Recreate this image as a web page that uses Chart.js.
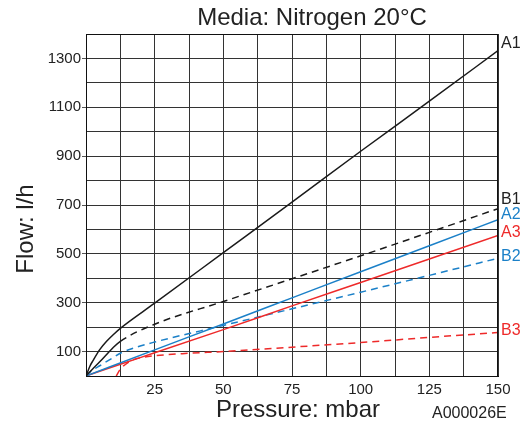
<!DOCTYPE html>
<html><head><meta charset="utf-8">
<script src="https://cdn.jsdelivr.net/npm/chart.js@4"></script>
<style>html,body{margin:0;padding:0;background:#fff}</style></head>
<body><canvas id="c" width="526" height="427"></canvas>
<script>
// ---- data ----
const xTickLabels = [25, 50, 75, 100, 125, 150];
const yTickLabels = [100, 300, 500, 700, 900, 1100, 1300];

const seriesNames = ['A1', 'B1', 'A2', 'A3', 'B2', 'B3'];
const a1P = [0, 1.5, 2.5, 5, 7.5, 10, 12.5, 25, 50, 75, 100, 125, 150];
const a1F = [0, 42, 62, 108, 142, 170, 195, 298, 505, 712, 920, 1125, 1332];
const b1P = [0, 2.5, 5, 7.5, 10, 12.5, 25, 50, 75, 100, 125, 150];
const b1F = [0, 30, 58, 88, 118, 142, 212, 305, 398, 492, 588, 685];
const a2P = [0, 25, 50, 75, 100, 125, 150];
const a2F = [0, 107, 213, 320, 427, 533, 640];
const a3P = [0, 12.5, 25, 50, 75, 100, 125, 150];
const a3F = [0, 48, 95, 190, 287, 383, 479, 575];
const b2P = [0, 2.5, 5, 10, 12.5, 17.5, 25, 50, 75, 100, 125, 150];
const b2F = [0, 25, 42, 76, 93, 115, 139, 207, 275, 343, 412, 482];
const b3P = [11, 12.5, 15, 17.5, 20, 25, 37.5, 50, 75, 100, 125, 150];
const b3F = [0, 28, 53, 68, 75, 83, 93, 100, 118, 137, 158, 178];
// label anchor values (flow) at the right edge
const labelFlow = [1359, 724, 659, 585, 487, 184];

const BLACK = '#1a1a1a', BLUE = '#1b80c8', RED = '#ee2a2a';
const colors = [BLACK, BLACK, BLUE, RED, BLUE, RED];
const pts = (p, f) => p.map((x, i) => ({x: x, y: f[i]}));
const allP = [a1P, b1P, a2P, a3P, b2P, b3P];
const allF = [a1F, b1F, a2F, a3F, b2F, b3F];
const dashed = [false, 'partial', false, false, true, true];
const DASH = [7, 5];

const datasets = seriesNames.map((n, i) => {
  const ds = {
    label: n,
    data: pts(allP[i], allF[i]),
    borderColor: colors[i],
    borderWidth: 1.5,
    pointRadius: 0,
    fill: false,
    cubicInterpolationMode: 'monotone',
  };
  if (dashed[i] === true) ds.borderDash = DASH;
  if (dashed[i] === 'partial') {
    ds.segment = { borderDash: ctx => ctx.p0.parsed.x >= 12.5 ? DASH : [] };
  }
  return ds;
});

const textPlugin = {
  id: 'texts',
  afterDraw(chart) {
    const c = chart.ctx, ca = chart.chartArea;
    const xs = chart.scales.x, ys = chart.scales.y;
    c.save();
    // frame
    c.strokeStyle = '#111'; c.lineWidth = 1;
    c.strokeRect(Math.round(ca.left) + 0.5, Math.round(ca.top) + 0.5, Math.round(ca.right - ca.left) - 1, Math.round(ca.bottom - ca.top));
    c.fillStyle = '#222';
    c.textBaseline = 'alphabetic';
    c.font = '24px "Liberation Sans", Arial, sans-serif';
    c.textAlign = 'center';
    c.fillText('Media: Nitrogen 20°C', 312, 25);
    c.fillText('Pressure: mbar', 298, 417);
    c.save();
    c.translate(33, 229);
    c.rotate(-Math.PI / 2);
    c.fillText('Flow: l/h', 0, 0);
    c.restore();
    c.font = '16px "Liberation Sans", Arial, sans-serif';
    c.textAlign = 'left';
    c.fillText('A000026E', 432, 418);
    c.textBaseline = 'middle';
    c.font = '16px "Liberation Sans", Arial, sans-serif';
    seriesNames.forEach((n, i) => {
      c.fillStyle = colors[i] === BLACK ? '#222' : colors[i];
      c.fillText(n, xs.getPixelForValue(150) + 3, ys.getPixelForValue(labelFlow[i]));
    });
    c.restore();
  }
};

new Chart(document.getElementById('c'), {
  type: 'line',
  data: { datasets },
  options: {
    responsive: false,
    devicePixelRatio: 1,
    animation: false,
    layout: { padding: { top: 34, right: 28, left: 0, bottom: 0 } },
    plugins: { legend: { display: false }, tooltip: { enabled: false }, title: { display: false } },
    scales: {
      x: {
        type: 'linear', min: 0, max: 150,
        afterFit: s => { s.height = 51; },
        ticks: {
          stepSize: 12.5, autoSkip: false, maxRotation: 0, padding: 5,
          color: '#222', font: { family: '"Liberation Sans", Arial, sans-serif', size: 15 },
          callback: v => xTickLabels.includes(v) ? String(v) : ''
        },
        grid: { color: '#333', lineWidth: 1, drawTicks: false },
        border: { color: '#111', width: 1 }
      },
      y: {
        type: 'linear', min: 0, max: 1400,
        afterFit: s => { s.width = 86; },
        ticks: {
          stepSize: 100, autoSkip: false, padding: 1,
          color: '#222', font: { family: '"Liberation Sans", Arial, sans-serif', size: 15 },
          callback: v => yTickLabels.includes(v) ? String(v) : ''
        },
        grid: {
          color: '#333', lineWidth: 1, tickLength: 4,
          tickColor: ctx => (ctx.tick && yTickLabels.includes(ctx.tick.value)) ? '#555' : 'rgba(0,0,0,0)'
        },
        border: { color: '#111', width: 1 }
      }
    }
  },
  plugins: [textPlugin]
});
</script>
</body></html>
